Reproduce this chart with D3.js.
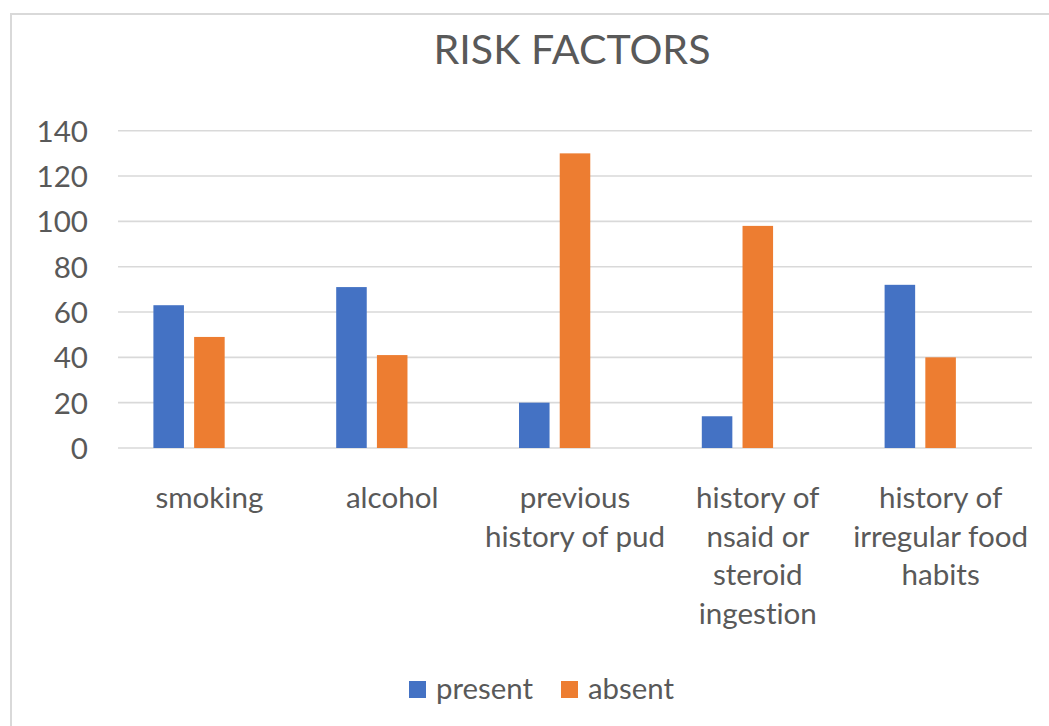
<!DOCTYPE html>
<html>
<head>
<meta charset="utf-8">
<script src="https://cdn.jsdelivr.net/npm/d3@7"></script>
<style>
  html, body { margin: 0; padding: 0; background: #fff; }
  svg { display: block; }
  text { font-family: Lato, "Open Sans", sans-serif; fill: #595959; font-variant-ligatures: none; font-feature-settings: "liga" 0; }
</style>
</head>
<body>
<svg id="chart" width="1049" height="726"></svg>
<script>
// ---- data ----
const title = "RISK FACTORS";
const categories = ["smoking", "alcohol", "previous history of pud", "history of nsaid or steroid ingestion", "history of irregular food habits"];
const categoryLines = [
  ["smoking"],
  ["alcohol"],
  ["previous", "history of pud"],
  ["history of", "nsaid or", "steroid", "ingestion"],
  ["history of", "irregular food", "habits"]
];
const seriesNames = ["present", "absent"];
const presentValues = [63, 71, 20, 14, 72];
const absentValues = [49, 41, 130, 98, 40];
const seriesSlots = ["present", "absent", "(empty)"]; // third empty series slot in the original
const yTicks = [0, 20, 40, 60, 80, 100, 120, 140];
const colors = ["#4472C4", "#ED7D31"];

const seriesValues = [presentValues, absentValues];

const svg = d3.select("#chart");

// outer chart border
svg.append("rect")
  .attr("x", 11).attr("y", 14).attr("width", 1070).attr("height", 740)
  .attr("fill", "none").attr("stroke", "#d9d9d9").attr("stroke-width", 2);

const plot = { left: 118, right: 1032, top: 130.7, bottom: 448 };

const x = d3.scaleBand().domain(categories).range([plot.left, plot.right]).paddingInner(0).paddingOuter(0);
const groupWidth = 112;
const xs = d3.scaleBand().domain(seriesSlots).range([0, groupWidth]).paddingInner(0.25).paddingOuter(0);
const y = d3.scaleLinear().domain([0, 140]).range([plot.bottom, plot.top]);

// helper to fit font size so that a sample string has a target width
function fitSize(sample, targetWidth, base) {
  const t = svg.append("text").attr("font-size", base).text(sample);
  const w = t.node().getComputedTextLength();
  t.remove();
  return base * targetWidth / w;
}
const axisSize = fitSize("smoking", 108, 30);
const titleSize = fitSize(title, 277, 40);
const legendSize = fitSize("present", 97, 30);

// gridlines
svg.append("g").selectAll("line").data(yTicks).join("line")
  .attr("x1", plot.left).attr("x2", plot.right)
  .attr("y1", d => y(d)).attr("y2", d => y(d))
  .attr("stroke", "#d9d9d9").attr("stroke-width", 1.6);

// y axis labels via d3 axis
const yAxis = svg.append("g").attr("transform", `translate(${plot.left},0)`)
  .call(d3.axisLeft(y).tickValues(yTicks).tickSize(0).tickPadding(30));
yAxis.select(".domain").remove();
yAxis.selectAll("text")
  .attr("font-size", axisSize)
  .attr("font-family", "Lato, 'Open Sans', sans-serif")
  .attr("fill", "#595959")
  .attr("dy", "0.35em");

// bars
seriesNames.forEach((s, si) => {
  svg.append("g").selectAll("rect").data(categories).join("rect")
    .attr("x", (c) => x(c) + (x.bandwidth() - groupWidth) / 2 + xs(s))
    .attr("width", xs.bandwidth())
    .attr("y", (c, i) => y(seriesValues[si][i]))
    .attr("height", (c, i) => y(0) - y(seriesValues[si][i]))
    .attr("fill", colors[si]);
});

// category labels
const catG = svg.append("g");
categories.forEach((c, i) => {
  const t = catG.append("text")
    .attr("text-anchor", "middle")
    .attr("font-size", axisSize);
  categoryLines[i].forEach((ln, li) => {
    t.append("tspan")
      .attr("x", x(c) + x.bandwidth() / 2)
      .attr("y", 508 + li * 38.5)
      .text(ln);
  });
});

// title
svg.append("text")
  .attr("x", 572).attr("y", 64)
  .attr("text-anchor", "middle")
  .attr("font-size", titleSize)
  .text(title);

// legend
const legendItems = [
  { name: seriesNames[0], color: colors[0], x: 409 },
  { name: seriesNames[1], color: colors[1], x: 561 }
];
const lg = svg.append("g");
legendItems.forEach(d => {
  lg.append("rect").attr("x", d.x).attr("y", 681).attr("width", 17).attr("height", 17).attr("fill", d.color);
  lg.append("text").attr("x", d.x + 27).attr("y", 699).attr("font-size", legendSize).text(d.name);
});
</script>
</body>
</html>
